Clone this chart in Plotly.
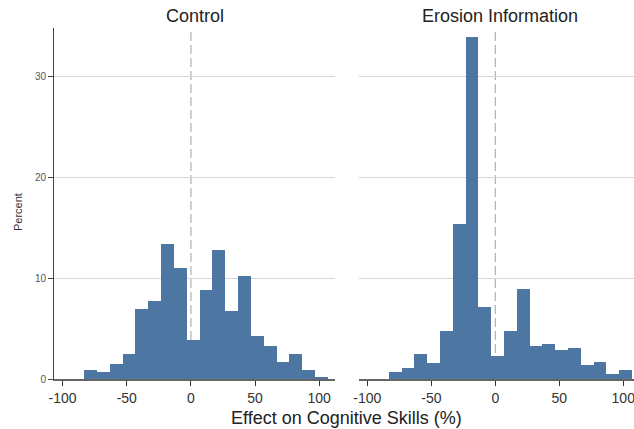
import plotly.graph_objects as go

# Bin centres (bin width 10, edges at -83, -73, ..., 107)
bin_centers = [-78, -68, -58, -48, -38, -28, -18, -8, 2, 12, 22, 32, 42, 52, 62, 72, 82, 92, 102]
control_pct = [0.9, 0.7, 1.5, 2.5, 6.9, 7.7, 13.4, 11.0, 3.9, 8.8, 12.8, 6.7, 10.2, 4.3, 3.3, 1.7, 2.5, 0.9, 0.15]
erosion_pct = [0.65, 1.05, 2.5, 1.6, 4.8, 15.35, 33.9, 7.1, 2.3, 4.8, 8.95, 3.3, 3.5, 2.9, 3.1, 1.4, 1.65, 0.45, 0.85]
panel_titles = ["Control", "Erosion Information"]
x_ticks = [-100, -50, 0, 50, 100]
x_tick_text = ["-100", "-50", "0", "50", "100"]
y_ticks = [0, 10, 20, 30]

W, H = 634, 429
BAR = "#4e76a3"
FONT = "Liberation Sans, Arial, Helvetica, sans-serif"

fig = go.Figure()
fig.add_trace(go.Bar(x=bin_centers, y=control_pct, width=10, marker=dict(color=BAR, line=dict(width=0)),
                     xaxis="x", yaxis="y", showlegend=False))
fig.add_trace(go.Bar(x=bin_centers, y=erosion_pct, width=10, marker=dict(color=BAR, line=dict(width=0)),
                     xaxis="x2", yaxis="y2", showlegend=False))

xcommon = dict(tickvals=x_ticks, ticktext=x_tick_text, ticks="outside", ticklen=5, tickcolor="#333",
               tickwidth=1, showline=True, linecolor="#666", linewidth=1.5, showgrid=False,
               zeroline=False, automargin=False,
               tickfont=dict(size=14, color="#333", family=FONT), ticklabeloverflow="allow")
ycommon = dict(range=[0, 34.8], tickvals=y_ticks, showgrid=True, gridcolor="#d6d6d6", gridwidth=1,
               zeroline=False, automargin=False)

fig.update_layout(
    width=W, height=H,
    margin=dict(l=0, r=0, t=28, b=50),
    paper_bgcolor="white", plot_bgcolor="white",
    bargap=0,
    font=dict(family=FONT, color="#333"),
    xaxis=dict(domain=[54.3 / W, 335 / W], range=[-106.5, 112.3], anchor="y", **xcommon),
    xaxis2=dict(domain=[359.3 / W, 1.0], range=[-106.3, 108.4], anchor="y2", **xcommon),
    yaxis=dict(anchor="x", showline=True, linecolor="#444", linewidth=1.3, ticks="outside",
               ticklen=5, tickcolor="#444", tickfont=dict(size=10, color="#555", family=FONT), **ycommon),
    yaxis2=dict(anchor="x2", showline=False, ticks="", showticklabels=False, **ycommon),
)

# dashed reference lines at zero
for xr, yr in [("x", "y domain"), ("x2", "y2 domain")]:
    fig.add_shape(type="line", xref=xr, yref=yr, x0=0, x1=0, y0=0, y1=1, layer="below",
                  line=dict(color="#b0b0b0", width=1.2, dash="9px,4px"))

# panel titles
for cx, t in zip([194.6 / W, 499.7 / W], panel_titles):
    fig.add_annotation(text=t, xref="paper", yref="paper", x=cx, y=(379 - 16) / 351,
                       xanchor="center", yanchor="middle", showarrow=False,
                       font=dict(size=18, color="#222", family=FONT))

fig.add_annotation(text="Effect on Cognitive Skills (%)", xref="paper", yref="paper",
                   x=346 / W, y=(379 - 418) / 351, xanchor="center", yanchor="middle",
                   showarrow=False, font=dict(size=18, color="#222", family=FONT))
fig.add_annotation(text="Percent", xref="paper", yref="paper", x=18 / W, y=(379 - 212) / 351,
                   xanchor="center", yanchor="middle", textangle=-90, showarrow=False,
                   font=dict(size=11, color="#333", family=FONT))

fig.write_html("out.html")
